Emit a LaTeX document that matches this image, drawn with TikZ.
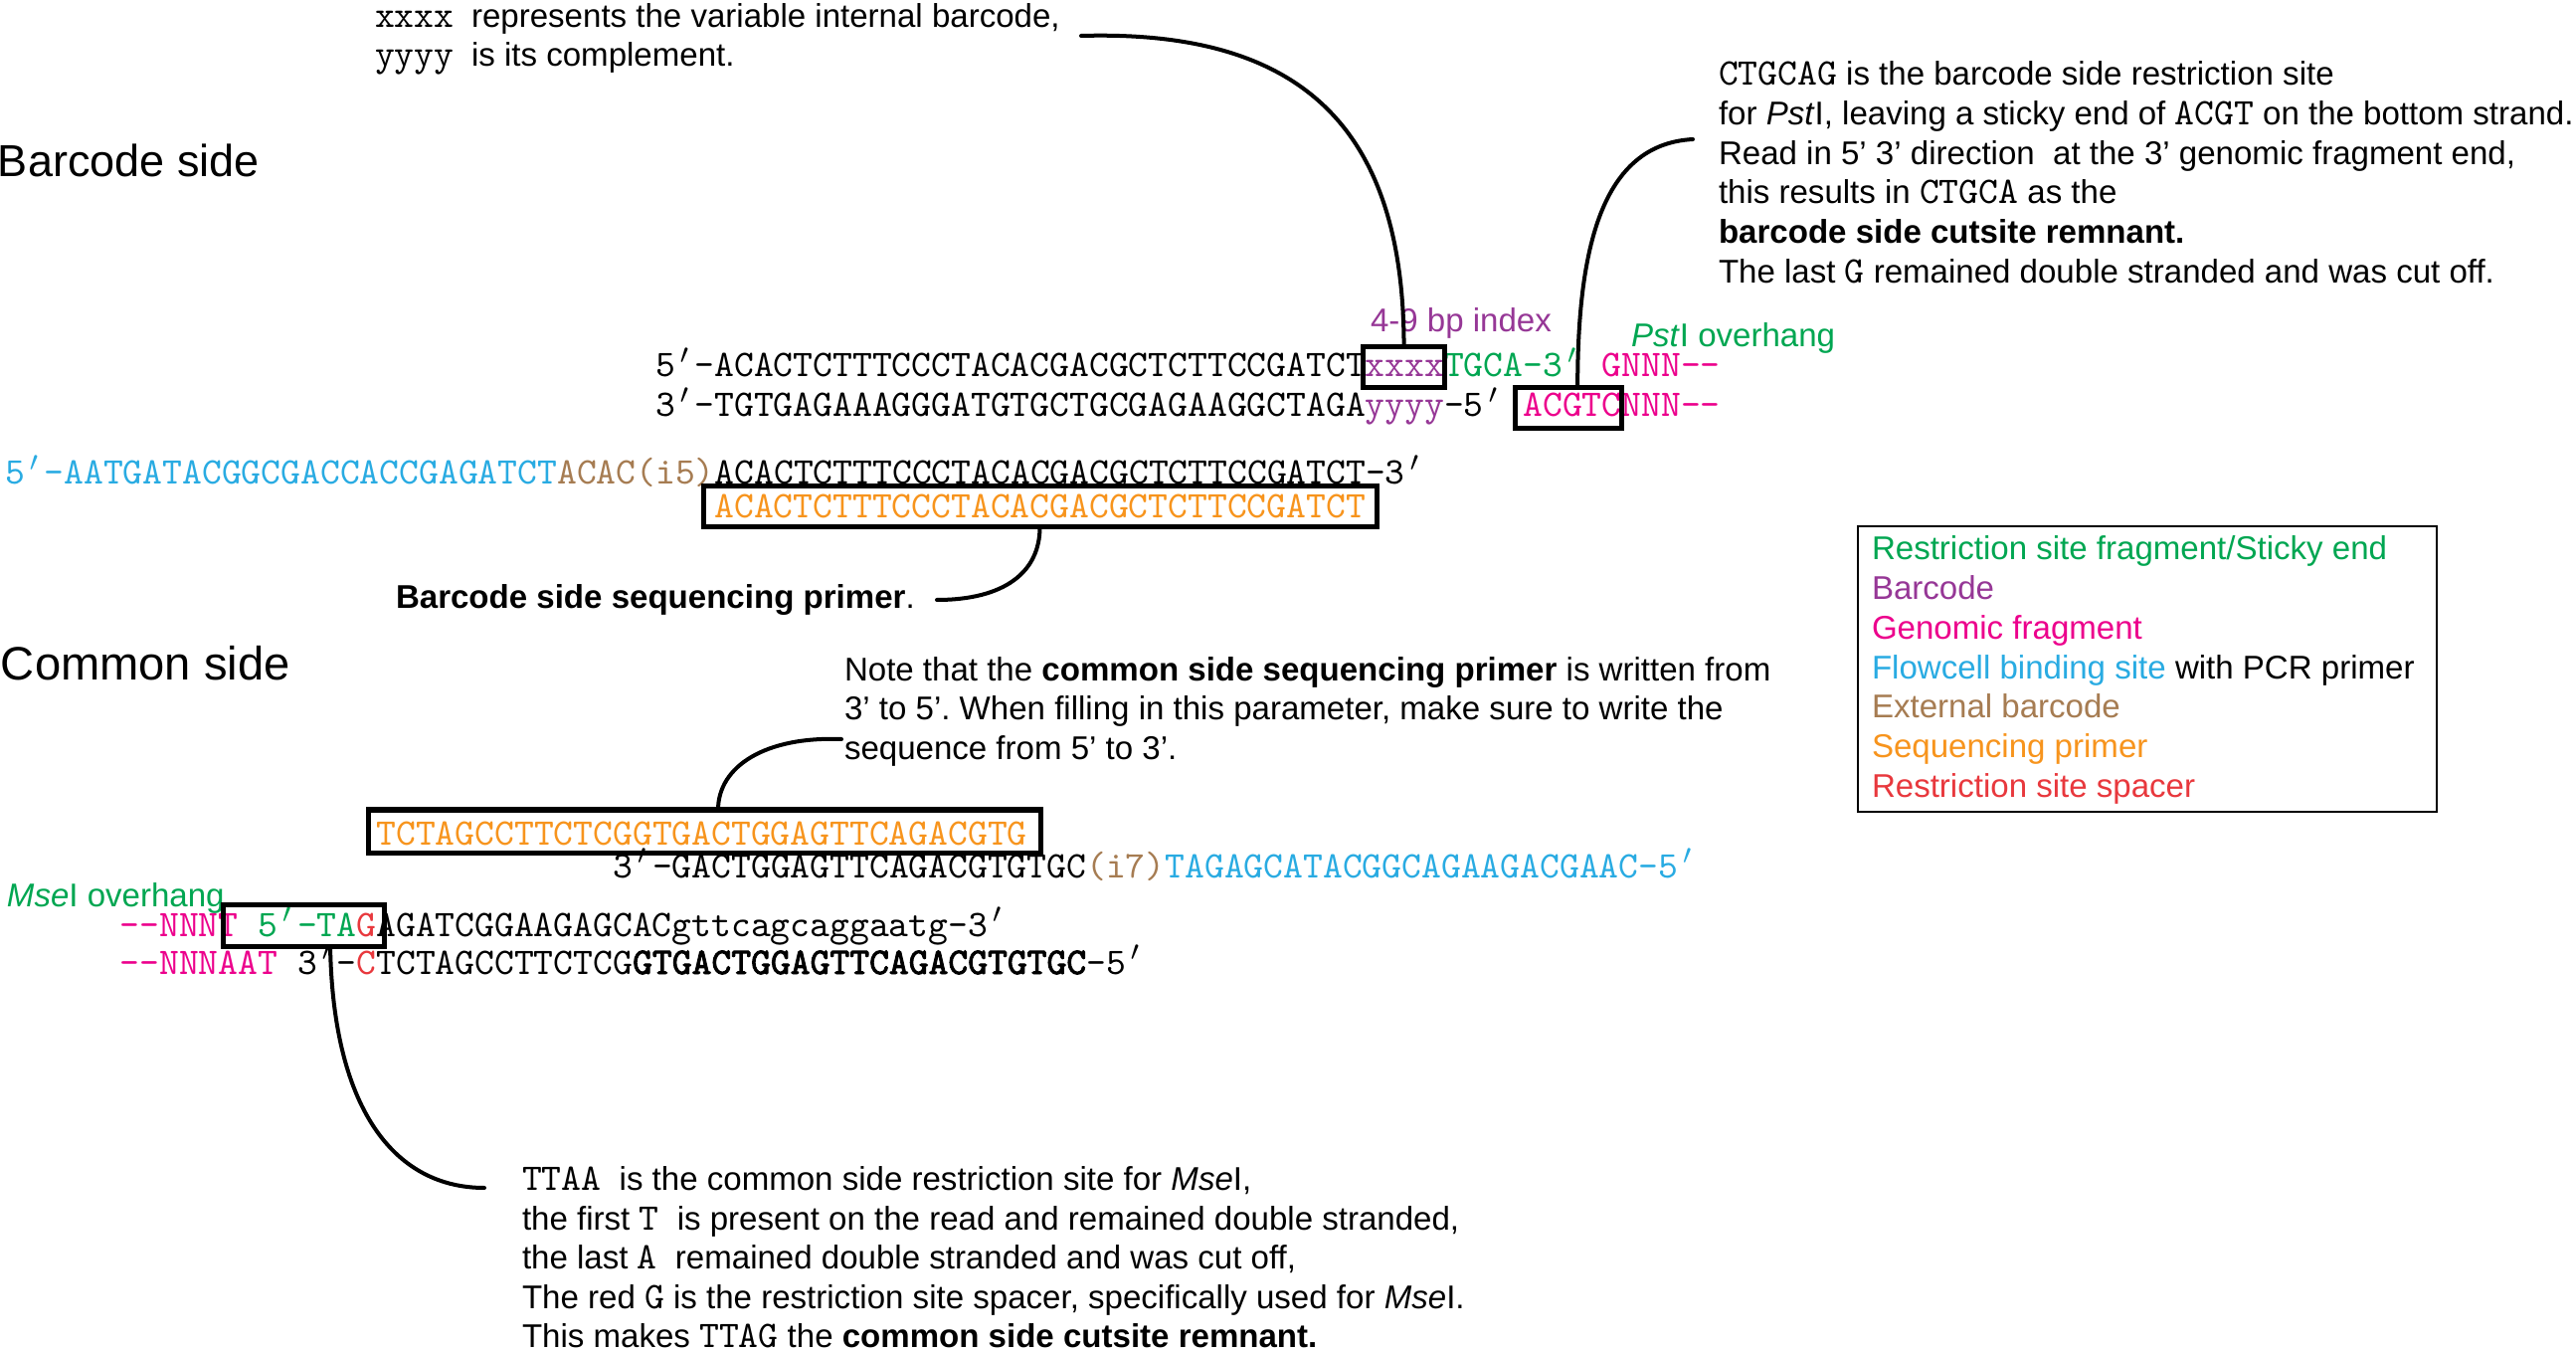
\documentclass[tikz,border=0pt]{standalone}
\usepackage{fontspec}
\setmainfont{Liberation Sans}
\newfontface\ttbold{lmmono10-regular.otf}[FakeBold=2.5]
\usetikzlibrary{fit}
\definecolor{cgreen}{RGB}{0,166,81}
\definecolor{cpurple}{RGB}{150,55,150}
\definecolor{cmag}{RGB}{236,0,140}
\definecolor{cblue}{RGB}{41,171,226}
\definecolor{cbrown}{RGB}{166,124,82}
\definecolor{corange}{RGB}{247,148,29}
\definecolor{cred}{RGB}{232,56,61}
\newcommand{\seqfont}{\fontsize{10.74pt}{12pt}\selectfont\ttfamily}
\newcommand{\seqf}[1]{{\seqfont #1}}
\newcommand{\pr}{\makebox[0.525em][c]{$'$}}
\newcommand{\seqbf}[1]{{\ttbold\fontsize{10.74pt}{12pt}\selectfont #1}}
\frenchspacing
\begin{document}
\begin{tikzpicture}[x=0.01cm,y=-0.01cm,
  txt/.style={inner sep=0pt,outer sep=0pt,anchor=base west,font=\fontsize{9.4pt}{11.3pt}\selectfont\frenchspacing},
  seqtxt/.style={inner sep=0pt,outer sep=0pt,anchor=base west,font=\seqfont},
  headtxt/.style={inner sep=0pt,outer sep=0pt,anchor=base west,font=\fontsize{12.8pt}{15pt}\selectfont},
  seqbox/.style={draw,line width=0.05cm,inner sep=0pt,outer sep=0pt},
  conn/.style={draw,line width=0.04cm,line cap=round},
  legbox/.style={draw,line width=0.022cm,inner sep=0pt,outer sep=0pt}]
\useasboundingbox (0,0) rectangle (2590,1358);

% ---------- top-left annotation
\node[txt] (nx1) at (377,28) {\makebox[0.97cm][l]{\seqf{xxxx}}represents the variable internal barcode,};
\node[txt] (nx2) at (377,67) {\makebox[0.97cm][l]{\seqf{yyyy}}is its complement.};

% ---------- headings
\node[headtxt] (hb) at (-2,178) {Barcode side};
\node[headtxt,font=\fontsize{13.4pt}{15pt}\selectfont] (hc) at (1,683) {Common side};

% ---------- right annotation
\node[txt] (r1) at (1728,86) {\seqf{CTGCAG} is the barcode side restriction site};
\node[txt] (r2) at (1728,126) {for \textit{Pst}I, leaving a sticky end of \seqf{ACGT} on the bottom strand.};
\node[txt] (r3) at (1728,166) {Read in 5’ 3’ direction \ at the 3’ genomic fragment end,};
\node[txt] (r4) at (1728,205) {this results in \seqf{CTGCA} as the};
\node[txt] (r5) at (1728,245) {\textbf{barcode side cutsite remnant.}};
\node[txt] (r6) at (1728,285) {The last \seqf{G} remained double stranded and was cut off.};

% ---------- labels
\node[txt,text=cpurple] (idx) at (1378,334) {4-9 bp index};
\node[txt,text=cgreen] (pst) at (1640,349) {\textit{Pst}I overhang};
\node[txt,text=cgreen] (mse) at (7,911) {\textit{Mse}I overhang};

% ---------- barcode side sequences
\node[seqtxt] (row1) at (659,379) {5\pr-ACACTCTTTCCCTACACGACGCTCTTCCGATCT\textcolor{cpurple}{xxxx}\textcolor{cgreen}{TGCA-3\pr}~\textcolor{cmag}{GNNN-{}-}};
\node[seqtxt] (row2) at (659,419) {3\pr-TGTGAGAAAGGGATGTGCTGCGAGAAGGCTAGA\textcolor{cpurple}{yyyy}-5\pr~\textcolor{cmag}{ACGTCNNN-{}-}};
\node[seqtxt] (row3) at (5,487) {\textcolor{cblue}{5\pr-AATGATACGGCGACCACCGAGATCT}\textcolor{cbrown}{ACAC(i5)}ACACTCTTTCCCTACACGACGCTCTTCCGATCT-3\pr};
\node[seqtxt,text=corange] (or1) at (718.5,521) {ACACTCTTTCCCTACACGACGCTCTTCCGATCT};

\node[seqbox,fit={(1370.9,349) (1452.2,390)}] (xbox) {};
\node[seqbox,fit={(1523.6,390) (1630.7,431)}] (abox) {};
\node[seqbox,fit={(707,489) (1384,530)}] (pbox1) {};

\node[txt] (bsp) at (398,612) {\textbf{Barcode side sequencing primer}.};

% ---------- common side
\node[txt] (n1) at (849,684) {Note that the \textbf{common side sequencing primer} is written from};
\node[txt] (n2) at (849,724) {3’ to 5’. When filling in this parameter, make sure to write the};
\node[txt] (n3) at (849,763) {sequence from 5’ to 3’.};

\node[seqtxt,text=corange] (or2) at (378.4,849) {TCTAGCCTTCTCGGTGACTGGAGTTCAGACGTG};
\node[seqtxt] (i7) at (616.4,882) {3\pr-GACTGGAGTTCAGACGTGTGC\textcolor{cbrown}{(i7)}\textcolor{cblue}{TAGAGCATACGGCAGAAGACGAAC-5\pr}};
\node[seqtxt] (c1) at (120.6,941) {\textcolor{cmag}{-{}-NNNT}~\textcolor{cgreen}{5\pr-TA}\textcolor{cred}{G}AGATCGGAAGAGCACgttcagcaggaatg-3\pr};
\node[seqtxt] (c2) at (120.6,979) {\textcolor{cmag}{-{}-NNNAAT}~3\pr-\textcolor{cred}{C}TCTAGCCTTCTCG\seqbf{GTGACTGGAGTTCAGACGTGTGC}-5\pr};

\node[seqbox,fit={(370,814) (1046,857)}] (pbox2) {};
\node[seqbox,fit={(224,909) (386,951)}] (cbox) {};

% ---------- bottom annotation
\node[txt] (b1) at (525,1196) {\seqf{TTAA} \ is the common side restriction site for \textit{Mse}I,};
\node[txt] (b2) at (525,1236) {the first \seqf{T} \ is present on the read and remained double stranded,};
\node[txt] (b3) at (525,1275) {the last \seqf{A} \ remained double stranded and was cut off,};
\node[txt] (b4) at (525,1315) {The red \seqf{G} is the restriction site spacer, specifically used for \textit{Mse}I.};
\node[txt] (b5) at (525,1354) {This makes \seqf{TTAG} the \textbf{common side cutsite remnant.}};

% ---------- legend
\node[legbox,fit={(1868,529) (2450,816)}] (legend) {};
\node[txt,text=cgreen] (l1) at (1882,563) {Restriction site fragment/Sticky end};
\node[txt,text=cpurple] (l2) at (1882,602.7) {Barcode};
\node[txt,text=cmag] (l3) at (1882,642.4) {Genomic fragment};
\node[txt] (l4) at (1882,682.1) {\textcolor{cblue}{Flowcell binding site} with PCR primer};
\node[txt,text=cbrown] (l5) at (1882,721.8) {External barcode};
\node[txt,text=corange] (l6) at (1882,761.5) {Sequencing primer};
\node[txt,text=cred] (l7) at (1882,801.2) {Restriction site spacer};

% ---------- connectors
\coordinate (aStart) at (1087,36);
\coordinate (bStart) at (1702,140);
\coordinate (cStart) at (942,603);
\coordinate (dStart) at (846,743);
\coordinate (eEnd) at (487,1194);
\draw[conn] (aStart) .. controls (1300,30) and (1411.5,120) .. (xbox.north);
\draw[conn] (bStart) .. controls (1610,145) and (1586,250) .. ([xshift=0.09cm]abox.north);
\draw[conn] (cStart) .. controls (1010,603) and (1045.5,575) .. (pbox1.south);
\draw[conn] (dStart) .. controls (770,740) and (722,770) .. ([xshift=0.14cm]pbox2.north);
\draw[conn] ([xshift=0.27cm]cbox.south) .. controls (335,1120) and (400,1194) .. (eEnd);
\end{tikzpicture}
\end{document}
